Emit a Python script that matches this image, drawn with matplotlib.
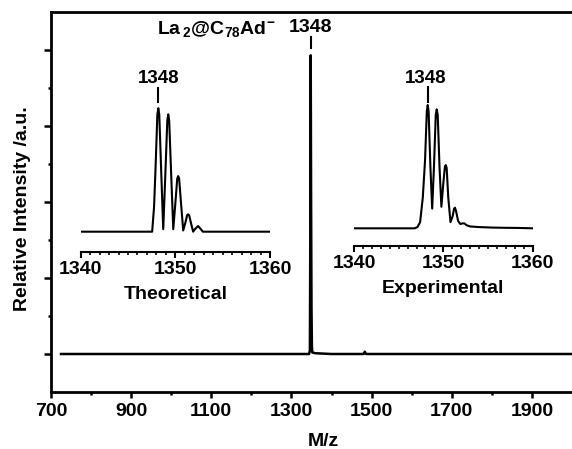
import matplotlib
matplotlib.use('Agg')
import matplotlib.pyplot as plt

plt.rcParams['font.family'] = ['Liberation Sans', 'DejaVu Sans']
plt.rcParams['font.weight'] = 'bold'
plt.rcParams['mathtext.fontset'] = 'custom'
plt.rcParams['mathtext.rm'] = 'Liberation Sans:bold'
plt.rcParams['mathtext.it'] = 'Liberation Sans:bold'
plt.rcParams['mathtext.bf'] = 'Liberation Sans:bold'

# full spectrum (m/z, relative intensity)
full_mz = [725, 1000, 1344, 1346, 1347, 1348, 1349, 1350, 1351, 1352, 1360,
           1380, 1400, 1480, 1483, 1486, 1700, 2000]
full_int = [0.0, 0.0, 0.0, 0.05, 1.5, 3.93, 2.0, 0.6, 0.1, 0.02, 0.01,
            0.005, 0.0, 0.0, 0.03, 0.0, 0.0, 0.0]

# theoretical isotope pattern
theo_mz = [1340, 1347.55, 1347.75, 1347.9, 1348.1, 1348.2, 1348.3, 1348.5,
           1348.72, 1348.95, 1349.15, 1349.25, 1349.35, 1349.55, 1349.78,
           1350.0, 1350.2, 1350.3, 1350.4, 1350.6, 1350.83, 1351.05, 1351.25,
           1351.35, 1351.45, 1351.65, 1351.88, 1352.1, 1352.4, 1352.7, 1352.9,
           1360]
theo_int = [0.0, 0.0, 0.2, 0.5, 0.95, 1.0, 0.95, 0.5,
            0.02, 0.48, 0.9, 0.95, 0.9, 0.48, 0.02,
            0.23, 0.43, 0.45, 0.43, 0.23, 0.01, 0.07, 0.135,
            0.14, 0.135, 0.07, 0.0, 0.023, 0.046, 0.02, 0.0,
            0.0]

# experimental isotope pattern
exp_mz = [1340, 1346.8, 1347.1, 1347.4, 1347.7, 1347.95, 1348.15, 1348.25,
          1348.35, 1348.55, 1348.75, 1348.95, 1349.15, 1349.26, 1349.37,
          1349.57, 1349.78, 1349.98, 1350.17, 1350.27, 1350.37, 1350.55,
          1350.8, 1351.05, 1351.2, 1351.3, 1351.42, 1351.65, 1351.9, 1352.15,
          1352.35, 1352.6, 1353.0, 1354.0, 1355.5, 1357.0, 1358.5, 1360]
exp_int = [0.0, 0.0, 0.01, 0.05, 0.25, 0.55, 0.95, 1.0,
           0.95, 0.5, 0.16, 0.5, 0.92, 0.965, 0.92,
           0.5, 0.175, 0.35, 0.5, 0.513, 0.49, 0.25,
           0.05, 0.1, 0.16, 0.167, 0.14, 0.06, 0.035, 0.04,
           0.04, 0.025, 0.015, 0.01, 0.006, 0.004, 0.003, 0.0]

W, H = 572, 449
fig = plt.figure(figsize=(W / 100, H / 100), dpi=100)

def px_axes(x0, x1, ytop, ybot):
    return fig.add_axes([x0 / W, (H - ybot) / H, (x1 - x0) / W, (ybot - ytop) / H])

# main axes
ax = px_axes(51, 572, 12, 392)
ax.plot(full_mz, full_int, color='black', lw=1.8)
ax.set_xlim(700, 2000)
ax.set_ylim(-0.5, 4.5)
ax.set_xticks(range(700, 2000, 200))
ax.set_xticks(range(800, 2000, 200), minor=True)
ax.set_yticks([0, 1, 2, 3, 4])
ax.set_yticks([0.5, 1.5, 2.5, 3.5], minor=True)
ax.set_yticklabels([])
ax.tick_params(axis='x', which='major', direction='out', length=4, width=1.8,
               labelsize=14, pad=4)
ax.tick_params(axis='x', which='minor', direction='out', length=2.5, width=1.8)
ax.tick_params(axis='y', which='major', direction='out', length=5, width=1.8)
ax.tick_params(axis='y', which='minor', direction='out', length=2.5, width=1.8)
for s in ['left', 'bottom', 'top']:
    ax.spines[s].set_linewidth(2)
ax.spines['right'].set_visible(False)
ax.set_xlabel('M/z', fontsize=14, fontweight='bold', va='center')
ax.xaxis.set_label_coords(0.522, -0.131)
ax.set_ylabel('Relative Intensity /a.u.', fontsize=14, fontweight='bold',
              ha='center', va='center')
ax.yaxis.set_label_coords(-0.054, 0.482)

ax.text(1348, 4.29, '1348', fontsize=14, fontweight='bold', ha='center', va='center')
ax.plot([1348, 1348], [4.03, 4.17], color='black', lw=1.5)
ax.text(1112, 4.27, r'$\mathrm{La}\,{}_{2}\mathrm{@C}_{78}\mathrm{Ad}^{-}$',
        fontsize=14, ha='center', va='center')

def inset(axi, mz, inten, ymin, ymax, label, lab_x, lab_y, tick_x, tick_y0, tick_y1, name_y):
    axi.plot(mz, inten, color='black', lw=1.5)
    axi.set_xlim(1340, 1360)
    axi.set_ylim(ymin, ymax)
    axi.patch.set_alpha(0)
    for s in ['left', 'right', 'top']:
        axi.spines[s].set_visible(False)
    axi.spines['bottom'].set_linewidth(1.5)
    axi.set_yticks([])
    axi.set_xticks([1340, 1350, 1360])
    axi.set_xticks(range(1341, 1360), minor=True)
    axi.tick_params(axis='x', which='major', direction='out', length=4, width=1.5,
                    labelsize=14, pad=3)
    axi.tick_params(axis='x', which='minor', direction='out', length=2.5, width=1.2)
    axi.text(lab_x, lab_y, '1348', fontsize=13.5, fontweight='bold',
             ha='center', va='center', clip_on=False)
    axi.plot([tick_x, tick_x], [tick_y0, tick_y1], color='black', lw=1.5, clip_on=False)
    axi.text(1350, name_y, label, fontsize=14, fontweight='bold',
             ha='center', va='center', clip_on=False)

ax_t = px_axes(80.7, 270, 102, 251.7)
inset(ax_t, theo_mz, theo_int, -0.162, 1.05, 'Theoretical',
      1348.27, 1.237, 1348.2, 1.05, 1.164, -0.51)

ax_e = px_axes(354, 532.7, 96.4, 245.7)
inset(ax_e, exp_mz, exp_int, -0.141, 1.07, 'Experimental',
      1348.06, 1.219, 1348.25, 1.027, 1.148, -0.485)

fig.savefig('out.png', dpi=100)
